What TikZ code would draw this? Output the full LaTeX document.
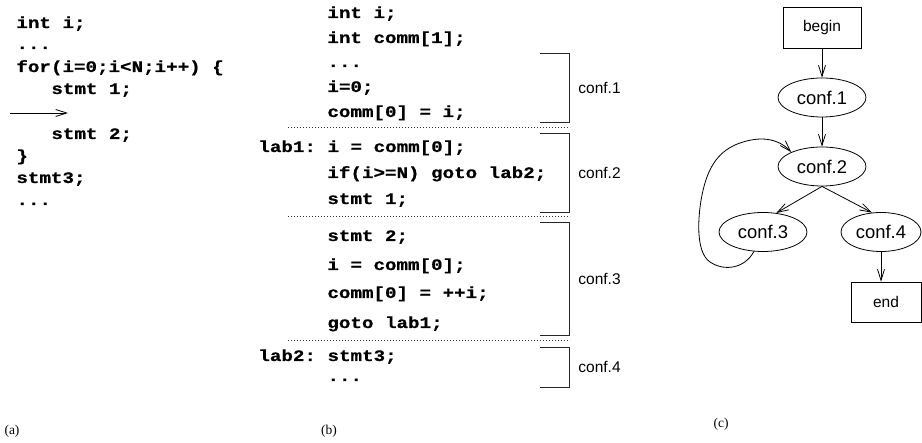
\documentclass[tikz,border=0pt]{standalone}
\usepackage{fontspec}
\setmainfont{Liberation Serif}
\newfontfamily\codefont{Liberation Mono}[FakeStretch=1.2,BoldFeatures={FakeBold=0.6}]
\newfontfamily\labelfont{Liberation Sans}
\usetikzlibrary{arrows.meta,shapes.geometric}

\begin{document}
\begin{tikzpicture}[x=1pt,y=-1pt,
  line width=0.8pt,
  >={Straight Barb[length=11pt,width=7pt]},
  code/.style={anchor=base west,inner sep=0pt,
    font=\codefont\bfseries\frenchspacing\fontsize{16}{16}\selectfont},
  caption/.style={inner sep=0pt,font=\fontsize{13.5}{14}\selectfont},
  conflabel/.style={anchor=west,inner sep=0pt,
    font=\labelfont\fontsize{15.5}{16}\selectfont},
  bracket/.style={draw=black!85,line width=0.9pt},
  dotline/.style={draw=black!80,line width=0.8pt,dash pattern=on 0.8pt off 2.2pt},
  conf/.style={draw,ellipse,minimum width=88pt,minimum height=39pt,inner sep=0pt,
    font=\labelfont\fontsize{18.4}{19}\selectfont},
  termbox/.style={draw,rectangle,minimum width=78pt,minimum height=41pt,inner sep=0pt,
    font=\labelfont\fontsize{15.5}{16}\selectfont},
  flow/.style={->,line width=0.8pt}
]
\useasboundingbox (0,0) rectangle (922,443);

% ---------- (a) original loop ----------
\node[code] (a1) at (16,28)  {int i;};
\node[code] (a2) at (16,49)  {...};
\node[code] (a3) at (16,72)  {for(i=0;i<N;i++) \{};
\node[code] (a4) at (51,94)  {stmt 1;};
\node[code] (a5) at (51,139) {stmt 2;};
\node[code] (a6) at (16,161) {\}};
\node[code] (a7) at (16,183) {stmt3;};
\node[code] (a8) at (16,205) {...};
\coordinate (cutL) at (10,113);
\coordinate (cutR) at (68,113);
\draw[flow] (cutL) -- (cutR);

% ---------- (b) configurations ----------
\node[code] (b1)  at (327,18)  {int i;};
\node[code] (b2)  at (327,43)  {int comm[1];};
\node[code] (b3)  at (327,67)  {...};
\node[code] (b4)  at (327,92)  {i=0;};
\node[code] (b5)  at (327,117) {comm[0] = i;};
\node[code] (b6)  at (258,152) {lab1: i = comm[0];};
\node[code] (b7)  at (327,178) {if(i>=N) goto lab2;};
\node[code] (b8)  at (327,204) {stmt 1;};
\node[code] (b9)  at (327,241) {stmt 2;};
\node[code] (b10) at (327,270) {i = comm[0];};
\node[code] (b11) at (327,298) {comm[0] = ++i;};
\node[code] (b12) at (327,328) {goto lab1;};
\node[code] (b13) at (258,361) {lab2: stmt3;};
\node[code] (b14) at (327,381) {...};

\draw[dotline] (288,127) -- (570,127);
\draw[dotline] (288,216) -- (570,216);
\draw[dotline] (288,340) -- (570,340);

\draw[bracket] (540,53)  -- (569,53)  -- (569,122) -- (540,122);
\draw[bracket] (540,133) -- (569,133) -- (569,212) -- (540,212);
\draw[bracket] (540,222) -- (569,222) -- (569,335) -- (540,335);
\draw[bracket] (540,347) -- (569,347) -- (569,387) -- (540,387);
\node[conflabel] (l1) at (578,88)  {conf.1};
\node[conflabel] (l2) at (578,173) {conf.2};
\node[conflabel] (l3) at (578,279) {conf.3};
\node[conflabel] (l4) at (578,367) {conf.4};

% ---------- (c) configuration graph ----------
\node[termbox] (begin) at (822,27.5) {begin};
\node[conf] (c1) at (822,97.5)  {conf.1};
\node[conf] (c2) at (822,166.5) {conf.2};
\node[conf] (c3) at (763,232)   {conf.3};
\node[conf,minimum width=80pt] (c4) at (881,232) {conf.4};
\node[termbox,minimum width=70pt,minimum height=40pt] (end) at (886,302) {end};

\draw[flow] (begin.south) -- (c1.north);
\draw[flow] (c1.south) -- (c2.north);
\draw[flow] (c2.south) -- (c3.55);
\draw[flow] (c2.south) -- (c4.115);
\draw[flow] (c4.south) -- (c4.south |- end.north);
\draw[flow] (c3.-115) .. controls (745,268) and (725,272) .. (710,262)
  .. controls (695,252) and (698,215) .. (702,195)
  .. controls (708,165) and (720,150) .. (740,143)
  .. controls (760,136) and (778,138) .. (c2.155);

% ---------- captions ----------
\node[caption] (capa) at (12,431)  {(a)};
\node[caption] (capb) at (329,431) {(b)};
\node[caption] (capc) at (721,424) {(c)};
\end{tikzpicture}
\end{document}
